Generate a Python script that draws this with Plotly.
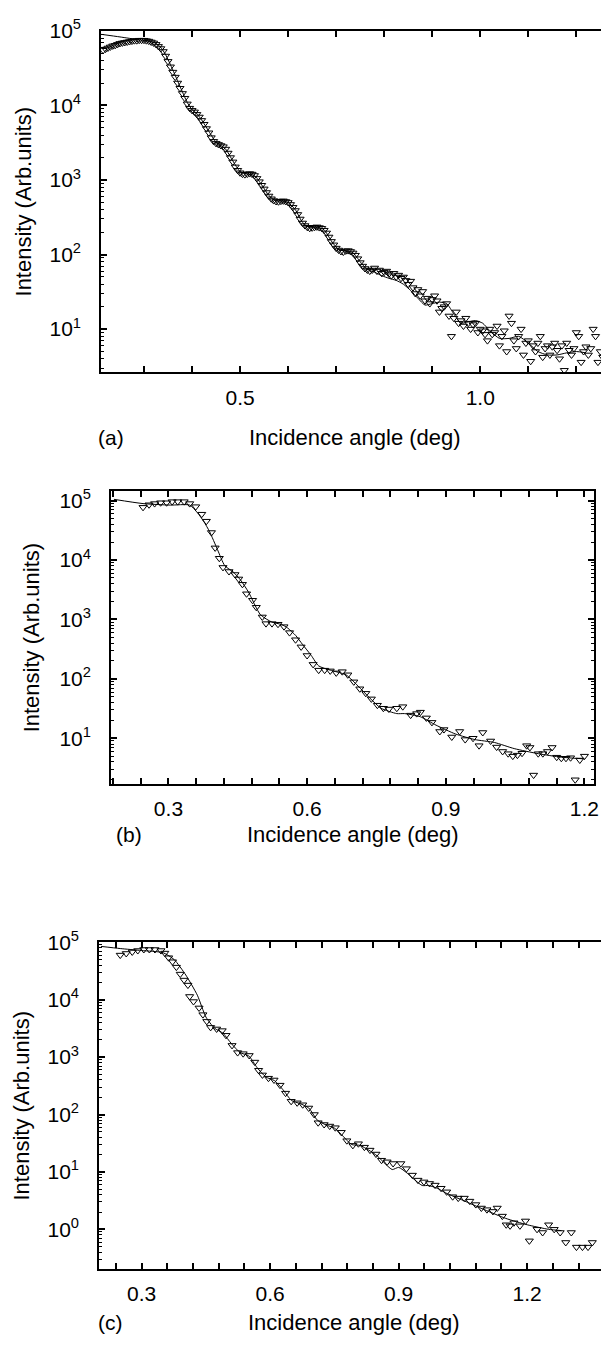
import plotly.graph_objects as go

# ---------------- Panel (a) ----------------
a_x = [0.215,0.22,0.225,0.23,0.235,0.24,0.245,0.25,0.255,0.26,0.265,0.27,0.275,0.28,0.285,0.29,0.295,0.30,0.305,0.31,
       0.315,0.32,0.325,0.33,0.335,0.34,0.345,0.35,0.355,0.36,0.365,0.37,0.375,0.38,0.385,0.39,0.395,0.40,0.405,0.41,
       0.415,0.42,0.425,0.43,0.435,0.44,0.445,0.45,0.455,0.46,0.465,0.47,0.475,0.48,0.485,0.49,0.495,0.50,0.505,0.51,
       0.515,0.52,0.525,0.53,0.535,0.54,0.545,0.55,0.555,0.56,0.565,0.57,0.575,0.58,0.585,0.59,0.595,0.60,0.605,0.61,
       0.615,0.62,0.625,0.63,0.635,0.64,0.645,0.65,0.655,0.66,0.665,0.67,0.675,0.68,0.685,0.69,0.695,0.70,0.705,0.71,
       0.715,0.72,0.725,0.73,0.735,0.74,0.745,0.75,0.755,0.76,0.765,0.77,0.775,
       0.78,0.785,0.79,0.795,0.80,0.805,0.81,0.815,0.82,0.825,0.83,0.835,0.84,0.845,0.85,0.855,0.86,0.865,0.87,0.875,
       0.88,0.885,0.89,0.895,0.90,0.905,0.91,0.915,0.92,0.925,0.93,0.935,0.94,0.945,0.95,0.955,0.96,0.965,0.97,0.975,
       0.98,0.985,0.99,0.995,1.0,1.005,1.01,1.015,1.02,1.025,1.03,1.035,1.04,1.045,1.05,1.055,1.06,1.065,1.07,1.075,
       1.08,1.085,1.09,1.095,1.10,1.105,1.11,1.115,1.12,1.125,1.13,1.135,1.14,1.145,1.15,1.155,1.16,1.165,1.17,1.175,
       1.18,1.185,1.19,1.195,1.20,1.205,1.21,1.215,1.22,1.225,1.23,1.235,1.24,1.245,1.25,1.255,1.26]
a_y = [5.5e4,5.7e4,5.9e4,6.1e4,6.3e4,6.4e4,6.6e4,6.8e4,6.9e4,7.0e4,7.1e4,7.2e4,7.3e4,7.4e4,7.4e4,7.5e4,7.5e4,7.5e4,7.4e4,7.3e4,
       7.1e4,6.9e4,6.6e4,6.2e4,5.8e4,5.3e4,4.6e4,3.9e4,3.3e4,2.8e4,2.4e4,2.0e4,1.7e4,1.45e4,1.25e4,1.05e4,9.2e3,8.6e3,8.2e3,7.6e3,
       7.0e3,6.3e3,5.6e3,4.9e3,4.3e3,3.7e3,3.3e3,3.1e3,3.0e3,2.9e3,2.8e3,2.6e3,2.3e3,2.0e3,1.75e3,1.5e3,1.35e3,1.25e3,1.2e3,1.18e3,
       1.2e3,1.22e3,1.2e3,1.15e3,1.05e3,950,850,760,680,610,560,530,515,510,520,525,515,500,470,430,
       390,345,300,265,245,232,225,228,232,235,230,225,212,195,172,150,135,122,115,110,
       108,112,113,110,105,98,88,78,70,65,62,60,62,
       66,60,62,56,58,60,55,52,56,50,53,48,50,45,40,44,36,30,34,28,
       32,24,26,22,25,28,24,17,19,20,22,15,8,14,17,12,13,11,14,12,
       10,11.5,12,9,10,9.5,8.5,7,10,8.5,9,11,6,8,9.5,5,15,12,7,5.5,
       8,10,4.5,6.5,7,3.7,6,5,6.5,8,4.2,5.5,6,4.5,5.8,6.5,5.2,4,6,2.8,
       6.5,5.2,4.5,5.5,9,8,3.6,5,5.8,4.5,5.5,10,8,3.6,5,4.2,3.6]
a_fit_x = [0.211,0.25,0.29,0.31,0.325,0.335,0.345,0.36,0.375,0.39,0.40,0.41,0.42,0.435,0.45,0.46,0.47,0.485,0.50,0.515,
           0.53,0.545,0.56,0.575,0.59,0.60,0.615,0.63,0.645,0.66,0.675,0.69,0.705,0.72,0.735,0.75,0.765,0.78,0.795,0.81,
           0.825,0.84,0.855,0.87,0.885,0.90,0.915,0.93,0.945,0.96,0.975,0.99,1.005,1.02,1.04,1.06,1.08,1.10,1.12,1.14,
           1.16,1.18,1.20,1.22]
a_fit_y = [9e4,8.3e4,7.6e4,7.3e4,6.8e4,6.0e4,4.8e4,3.0e4,1.8e4,1.1e4,8.8e3,7.8e3,6.4e3,4.5e3,3.2e3,2.9e3,2.6e3,1.8e3,1.3e3,1.2e3,
           1.15e3,860,620,520,525,500,400,270,228,234,215,152,117,110,106,80,63,58,52,48,
           45,40,33,26,21,22,23,22,16,12,12.5,13,12,9.5,7.5,7.5,8,6.5,5,4.5,
           4.5,4.8,5,4.8]

# ---------------- Panel (b) ----------------
b_x = [0.245,0.258,0.27,0.283,0.296,0.308,0.32,0.334,0.346,0.359,0.372,0.382,0.393,0.401,0.41,0.418,0.431,0.444,0.452,0.46,
       0.469,0.482,0.49,0.503,0.511,0.524,0.537,0.55,0.562,0.575,0.587,0.60,0.613,0.625,0.638,0.65,0.663,0.676,0.688,0.701,
       0.714,0.727,0.739,0.752,0.765,0.777,0.794,0.807,0.824,0.837,0.845,0.858,0.87,0.887,0.896,0.913,0.93,0.942,0.959,0.972,
       0.98,0.997,1.01,1.023,1.035,1.045,1.055,1.065,1.075,1.082,1.09,1.10,1.11,1.12,1.13,1.14,1.15,1.16,1.17,1.18,1.19,1.2]
b_y = [7.7e4,8.5e4,8.9e4,9.2e4,9.2e4,9.6e4,9.6e4,9.6e4,8.9e4,7.9e4,5.9e4,4.5e4,2.9e4,1.6e4,1.07e4,7.5e3,6.4e3,5.7e3,4.8e3,3.9e3,
       2.7e3,2.1e3,1.6e3,1.1e3,850,850,830,755,600,455,345,247,175,140,140,136,126,132,117,89,
       68,57,46,36,32,31,32,34,24.5,26,27.5,22,18.5,13,14,10.5,13,9.5,10,7.5,
       12.5,9,7.1,6.0,5.5,5.0,5.2,5.6,7.5,7,2.4,5.5,5.5,6,7,4.8,4.6,4.6,4.7,2.0,4.3,5.0]
b_fit_x = [0.182,0.245,0.304,0.346,0.363,0.376,0.389,0.406,0.422,0.44,0.456,0.473,0.499,0.524,0.545,0.558,0.575,0.59,0.609,0.625,
           0.65,0.684,0.71,0.735,0.76,0.794,0.811,0.845,0.879,0.921,0.963,1.005,1.048,1.1,1.15,1.2]
b_fit_y = [1.05e5,8.9e4,8.4e4,8.4e4,6.2e4,4.5e4,3e4,1.5e4,8e3,6.3e3,4.6e3,2.9e3,1.2e3,900,820,715,540,380,247,165,
           140,117,76,48,32,26,26,23,16.6,11.8,9.5,8.5,6.7,5.5,4.8,4.5]

# ---------------- Panel (c) ----------------
c_x = [0.25,0.264,0.278,0.291,0.305,0.318,0.331,0.345,0.354,0.363,0.372,0.381,0.39,0.399,0.408,0.412,0.421,0.434,0.443,0.452,
       0.461,0.475,0.488,0.497,0.511,0.524,0.537,0.551,0.564,0.573,0.582,0.596,0.609,0.623,0.636,0.649,0.663,0.676,0.69,0.703,
       0.712,0.726,0.739,0.752,0.766,0.779,0.793,0.806,0.82,0.833,0.847,0.86,0.873,0.887,0.905,0.918,0.932,0.945,0.959,0.972,
       0.985,0.999,1.012,1.026,1.039,1.053,1.066,1.08,1.093,1.106,1.12,1.13,1.142,1.151,1.16,1.169,1.183,1.196,1.205,1.223,
       1.236,1.25,1.263,1.277,1.29,1.303,1.315,1.329,1.342,1.352]
c_y = [6.0e4,6.4e4,6.8e4,7.2e4,7.5e4,7.5e4,7.5e4,7.2e4,6.5e4,5.4e4,4.6e4,3.7e4,2.8e4,2.2e4,1.8e4,1.14e4,9.3e3,7.2e3,5.5e3,4.2e3,
       3.3e3,3.1e3,2.9e3,2.4e3,1.6e3,1.2e3,1.15e3,1.07e3,820,590,490,430,400,325,236,170,160,148,130,100,
       72,67,63,59,49,35,29,31,27,24,20.5,16,15,14,14,11.4,8.8,7.2,6.7,6.3,
       5.9,5.2,4.5,3.7,3.5,3.5,3.1,2.7,2.35,2.2,2.05,2.35,1.7,1.2,1.15,1.3,1.15,1.4,0.63,1.0,
       0.88,1.2,1.0,0.88,0.59,0.88,0.49,0.49,0.49,0.59]
c_fit_x = [0.205,0.25,0.30,0.35,0.376,0.403,0.43,0.45,0.47,0.49,0.51,0.53,0.55,0.57,0.59,0.61,0.63,0.65,0.67,0.69,
           0.71,0.73,0.75,0.77,0.79,0.81,0.83,0.85,0.87,0.885,0.90,0.92,0.94,0.955,0.97,0.99,1.01,1.05,1.10,1.15,
           1.20,1.25,1.28]
c_fit_y = [8.5e4,7.8e4,7.2e4,6.6e4,5.0e4,2.7e4,1.2e4,5.0e3,3.2e3,2.6e3,1.7e3,1.2e3,1.05e3,650,450,390,270,175,155,130,
           80,66,58,42,30,29,24,19,13.5,11,12,9.5,7,5.8,5.8,5.2,4.3,3.2,2.2,1.55,
           1.2,1.0,0.95]

# tick labels
a_xticks = [0.5, 1.0]
a_xtext = ["0.5", "1.0"]
bc_xticks = [0.3, 0.6, 0.9, 1.2]
bc_xtext = ["0.3", "0.6", "0.9", "1.2"]
ab_yticks = [1e1, 1e2, 1e3, 1e4, 1e5]
ab_ytext = ["10<sup>1</sup>", "10<sup>2</sup>", "10<sup>3</sup>", "10<sup>4</sup>", "10<sup>5</sup>"]
c_yticks = [1e0, 1e1, 1e2, 1e3, 1e4, 1e5]
c_ytext = ["10<sup>0</sup>", "10<sup>1</sup>", "10<sup>2</sup>", "10<sup>3</sup>", "10<sup>4</sup>", "10<sup>5</sup>"]

FONT = "Liberation Sans, Arial, Helvetica, sans-serif"

fig = go.Figure()
panels = [
    (a_x, a_y, a_fit_x, a_fit_y, "x", "y"),
    (b_x, b_y, b_fit_x, b_fit_y, "x2", "y2"),
    (c_x, c_y, c_fit_x, c_fit_y, "x3", "y3"),
]
for px, py, fx, fy, xa, ya in panels:
    fig.add_trace(go.Scatter(x=fx, y=fy, mode="lines", line=dict(color="black", width=1, shape="spline", smoothing=0.6),
                             xaxis=xa, yaxis=ya, showlegend=False, hoverinfo="skip"))
    fig.add_trace(go.Scatter(x=px, y=py, mode="markers",
                             marker=dict(symbol="triangle-down-open", size=7, color="black", line=dict(width=1)),
                             xaxis=xa, yaxis=ya, showlegend=False))

W, H = 609, 1349
def dx(l, r):
    return [l / W, r / W]
def dy(t, b):
    return [1 - b / H, 1 - t / H]

boxes = {
    "a": dict(x=(94, 605), y=(9, 354), xr=[0.211, 1.266], yr=[0.42, 5.0], mdt=0.1,
              xt=a_xticks, xl=a_xtext, yt=ab_yticks, yl=ab_ytext, lab="(a)", labx=104, titley=420, ytx=16),
    "b": dict(x=(104, 591), y=(474, 770), xr=[0.176, 1.221], yr=[0.23, 5.16], mdt=0.06,
              xt=bc_xticks, xl=bc_xtext, yt=ab_yticks, yl=ab_ytext, lab="(b)", labx=122, titley=821, ytx=24),
    "c": dict(x=(92, 606), y=(930, 1260), xr=[0.201, 1.391], yr=[-0.69, 5.0], mdt=0.06,
              xt=bc_xticks, xl=bc_xtext, yt=c_yticks, yl=c_ytext, lab="(c)", labx=103, titley=1314, ytx=14),
}

axis_common = dict(showline=True, linecolor="black", linewidth=2, mirror="ticks", ticks="inside",
                   tickcolor="black", tickwidth=1.5, showgrid=False, zeroline=False,
                   tickfont=dict(family=FONT, size=21, color="black"))

layout_axes = {}
keys = ["a", "b", "c"]
for i, k in enumerate(keys):
    bx = boxes[k]
    sx = "" if i == 0 else str(i + 1)
    layout_axes["xaxis" + sx] = dict(axis_common, domain=dx(*bx["x"]), range=bx["xr"], anchor="y" + sx,
                                     tickmode="array", tickvals=bx["xt"], ticktext=bx["xl"], ticklen=6,
                                     ticklabelstandoff=5,
                                     minor=dict(dtick=bx["mdt"], tick0=0, ticks="inside", ticklen=6, tickwidth=1.5,
                                                tickcolor="black", showgrid=False))
    layout_axes["yaxis" + sx] = dict(axis_common, domain=dy(*bx["y"]), range=bx["yr"], type="log", anchor="x" + sx,
                                     tickmode="array", tickvals=bx["yt"], ticktext=bx["yl"], ticklen=6,
                                     ticklabelstandoff=14,
                                     minor=dict(dtick="D1", ticks="inside", ticklen=3, tickwidth=1,
                                                tickcolor="black", showgrid=False))

fig.update_layout(width=W, height=H, margin=dict(l=0, r=0, t=0, b=0),
                  paper_bgcolor="white", plot_bgcolor="white",
                  font=dict(family=FONT, color="black"), **layout_axes)

for k in keys:
    bx = boxes[k]
    l, r = bx["x"]
    t, b = bx["y"]
    # x-axis title and panel label
    fig.add_annotation(text="Incidence angle (deg)", x=(l + r) / 2 / W, y=1 - bx["titley"] / H,
                       xref="paper", yref="paper", showarrow=False, xanchor="center", yanchor="middle",
                       font=dict(family=FONT, size=22, color="black"))
    fig.add_annotation(text=bx["lab"], x=bx["labx"] / W, y=1 - bx["titley"] / H,
                       xref="paper", yref="paper", showarrow=False, xanchor="center", yanchor="middle",
                       font=dict(family=FONT, size=21, color="black"))
    # y-axis title
    fig.add_annotation(text="Intensity (Arb.units)", x=bx["ytx"] / W, y=1 - (t + b) / 2 / H, textangle=-90,
                       xref="paper", yref="paper", showarrow=False, xanchor="center", yanchor="middle",
                       font=dict(family=FONT, size=22, color="black"))

fig.write_html("out.html")
